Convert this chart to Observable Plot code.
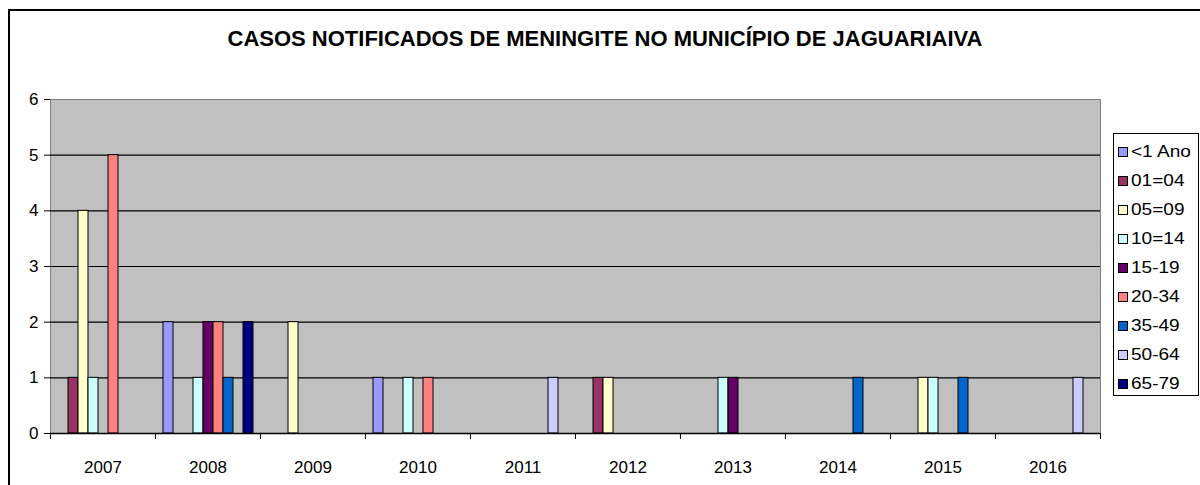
<!DOCTYPE html>
<html><head><meta charset="utf-8">
<script src="https://cdn.jsdelivr.net/npm/d3@7"></script>
<script src="https://cdn.jsdelivr.net/npm/@observablehq/plot@0.6"></script>
<style>
html,body{margin:0;padding:0;width:1200px;height:485px;overflow:hidden;background:#fff;font-family:Arial,"Liberation Sans",sans-serif;color:#000;}
#frame{position:absolute;left:8px;top:9px;width:1300px;height:600px;border:2px solid #000;box-sizing:border-box;}
#title{position:absolute;left:0;top:0;width:1210px;height:70px;text-align:center;font-weight:bold;font-size:22px;line-height:22px;padding-top:28px;box-sizing:border-box;white-space:nowrap;}
#chart{position:absolute;left:0;top:70px;}
#legend{position:absolute;left:1113px;top:133px;width:86px;height:263px;border:1px solid #000;background:#fff;box-sizing:border-box;padding-top:3px;}
.item{height:29px;line-height:29px;font-size:17px;white-space:nowrap;display:flex;align-items:center;}
.sw{display:inline-block;width:8px;height:8px;border:1px solid #000;margin-left:4px;margin-right:3px;flex:none;}
.tx{display:inline-block;transform:scaleX(1.12);transform-origin:left center;}
</style></head>
<body>
<div id="frame"></div>
<div id="title"></div>
<div id="chart"></div>
<div id="legend"></div>
<script>
const titleText = "CASOS NOTIFICADOS DE MENINGITE NO MUNICÍPIO DE JAGUARIAIVA";
const years = ["2007","2008","2009","2010","2011","2012","2013","2014","2015","2016"];
const ageGroups = ["<1 Ano","01=04","05=09","10=14","15-19","20-34","35-49","50-64","65-79"];
const groupColors = ["#9999FF","#993366","#FFFFCC","#CCFFFF","#660066","#FF8080","#0066CC","#CCCCFF","#000080"];
const yTicks = [0,1,2,3,4,5,6];
// cases per age group, one value per year (2007..2016)
const casesLt1   = [0,2,0,1,0,0,0,0,0,0];
const cases01_04 = [1,0,0,0,0,1,0,0,0,0];
const cases05_09 = [4,0,2,0,0,1,0,0,1,0];
const cases10_14 = [1,1,0,1,0,0,1,0,1,0];
const cases15_19 = [0,2,0,0,0,0,1,0,0,0];
const cases20_34 = [5,2,0,1,0,0,0,0,0,0];
const cases35_49 = [0,1,0,0,0,0,0,1,1,0];
const cases50_64 = [0,0,0,0,1,0,0,0,0,1];
const cases65_79 = [0,2,0,0,0,0,0,0,0,0];
const seriesValues = [casesLt1,cases01_04,cases05_09,cases10_14,cases15_19,cases20_34,cases35_49,cases50_64,cases65_79];

const rows = [];
ageGroups.forEach((g, gi) => years.forEach((yr, yi) => {
  const v = seriesValues[gi][yi];
  if (v > 0) rows.push({year: yr, group: g, value: v});
}));

document.getElementById("title").textContent = titleText;

const W = 1200, H = 415, mL = 49, mR = 100, mT = 29, mB = 52;
const step = (W - mL - mR) / years.length;

const chart = Plot.plot({
  width: W, height: H,
  marginLeft: mL, marginRight: mR, marginTop: mT, marginBottom: mB,
  fx: {domain: years, padding: 0, label: null},
  x: {domain: ageGroups, axis: null, paddingInner: 0, paddingOuter: 0.75},
  y: {domain: [0, 6], label: null},
  color: {domain: ageGroups, range: groupColors},
  style: {fontFamily: "Arial, 'Liberation Sans', sans-serif", fontSize: "17px", color: "#000", background: "transparent"},
  marks: [
    Plot.frame({facet: "super", fill: "#C0C0C0", stroke: "#808080"}),
    Plot.ruleY(yTicks.filter(d => d > 0 && d < 6), {stroke: "#000", strokeWidth: 1.2}),
    Plot.barY(rows, {fx: "year", x: "group", y: "value", fill: "group", stroke: "#000", strokeWidth: 1}),
    Plot.ruleY([0], {stroke: "#000", strokeWidth: 1.3}),
    Plot.axisY({ticks: yTicks, tickSize: 6, tickPadding: 6, tickFormat: d => d, line: true, stroke: "#000", fontSize: 17}),
    Plot.axisFx({anchor: "bottom", tickSize: 0, tickPadding: 27, fontSize: 17}),
    Plot.axisFx({anchor: "bottom", fill: "none", tickSize: 6, dx: -step / 2, stroke: "#000"}),
    Plot.axisFx({anchor: "bottom", fill: "none", tickSize: 6, ticks: [years[years.length - 1]], dx: step / 2, stroke: "#000"})
  ]
});
document.getElementById("chart").appendChild(chart);

const legend = document.getElementById("legend");
ageGroups.forEach((g, i) => {
  const it = document.createElement("div");
  it.className = "item";
  const sw = document.createElement("span");
  sw.className = "sw";
  sw.style.background = groupColors[i];
  const tx = document.createElement("span");
  tx.className = "tx";
  tx.textContent = g;
  it.appendChild(sw); it.appendChild(tx);
  legend.appendChild(it);
});
</script>
</body></html>
